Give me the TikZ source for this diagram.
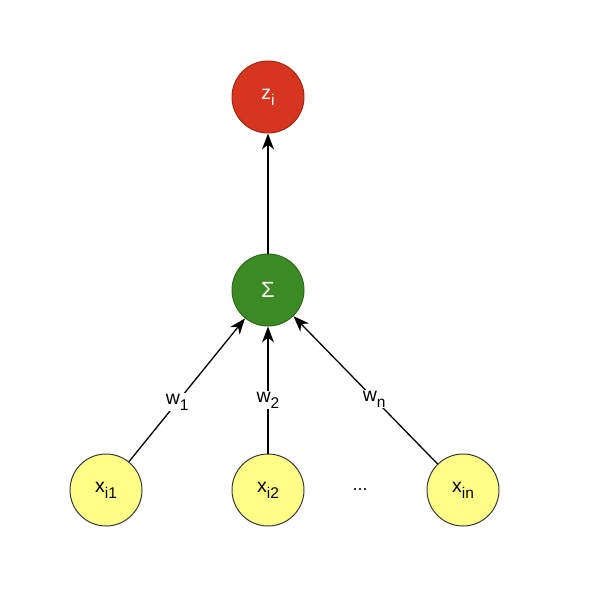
\documentclass[tikz,border=0pt]{standalone}
\usepackage{fontspec}
\setmainfont{Liberation Sans}
\usetikzlibrary{arrows.meta}
\definecolor{redfill}{HTML}{D63520}
\definecolor{redline}{HTML}{A4260F}
\definecolor{greenfill}{HTML}{3B8A24}
\definecolor{greenline}{HTML}{2D6A19}
\definecolor{yellowfill}{HTML}{FFFF88}
\definecolor{yellowline}{HTML}{36393D}
\newcommand{\mysub}[1]{\raisebox{-6pt}{\fontsize{15.5}{15.5}\selectfont #1}}
\tikzset{
  neuron/.style={circle, minimum size=72pt, inner sep=0pt, line width=1pt, font=\fontsize{19.5}{21}\selectfont},
  redn/.style={neuron, fill=redfill, draw=redline, text=white},
  greenn/.style={neuron, fill=greenfill, draw=greenline, text=white},
  yellown/.style={neuron, fill=yellowfill, draw=yellowline, text=black},
  wlabel/.style={fill=white, inner sep=1pt, font=\fontsize{19.5}{21}\selectfont, text=black},
  conn/.style={line width=1.3pt, draw=black},
  arr/.style={conn, -{Stealth[length=16pt,width=12pt,inset=5pt]}}
}
\begin{document}
\begin{tikzpicture}[x=1pt,y=-1pt]
\useasboundingbox (0,0) rectangle (588,612);
\node[redn] (z) at (268,97) {z\mysub{i}};
\node[greenn] (s) at (268,290) {\fontsize{22}{24}\selectfont Σ};
\node[yellown] (x1) at (106,490) {x\mysub{i1}};
\node[yellown] (x2) at (268,490) {x\mysub{i2}};
\node[yellown] (xn) at (463,490) {x\mysub{in}};
\node[font=\fontsize{18}{20}\selectfont] (dots) at (360,490) {...};
\draw[arr] (s) -- (z);
\draw[arr] (x1) -- node[wlabel, pos=0.415] (w1) {w\mysub{1}} (s);
\draw[arr] (x2) -- node[wlabel, pos=0.42] (w2) {w\mysub{2}} (s);
\draw[arr] (xn) -- node[wlabel, pos=0.44] (wn) {w\mysub{n}} (s);
\end{tikzpicture}
\end{document}
